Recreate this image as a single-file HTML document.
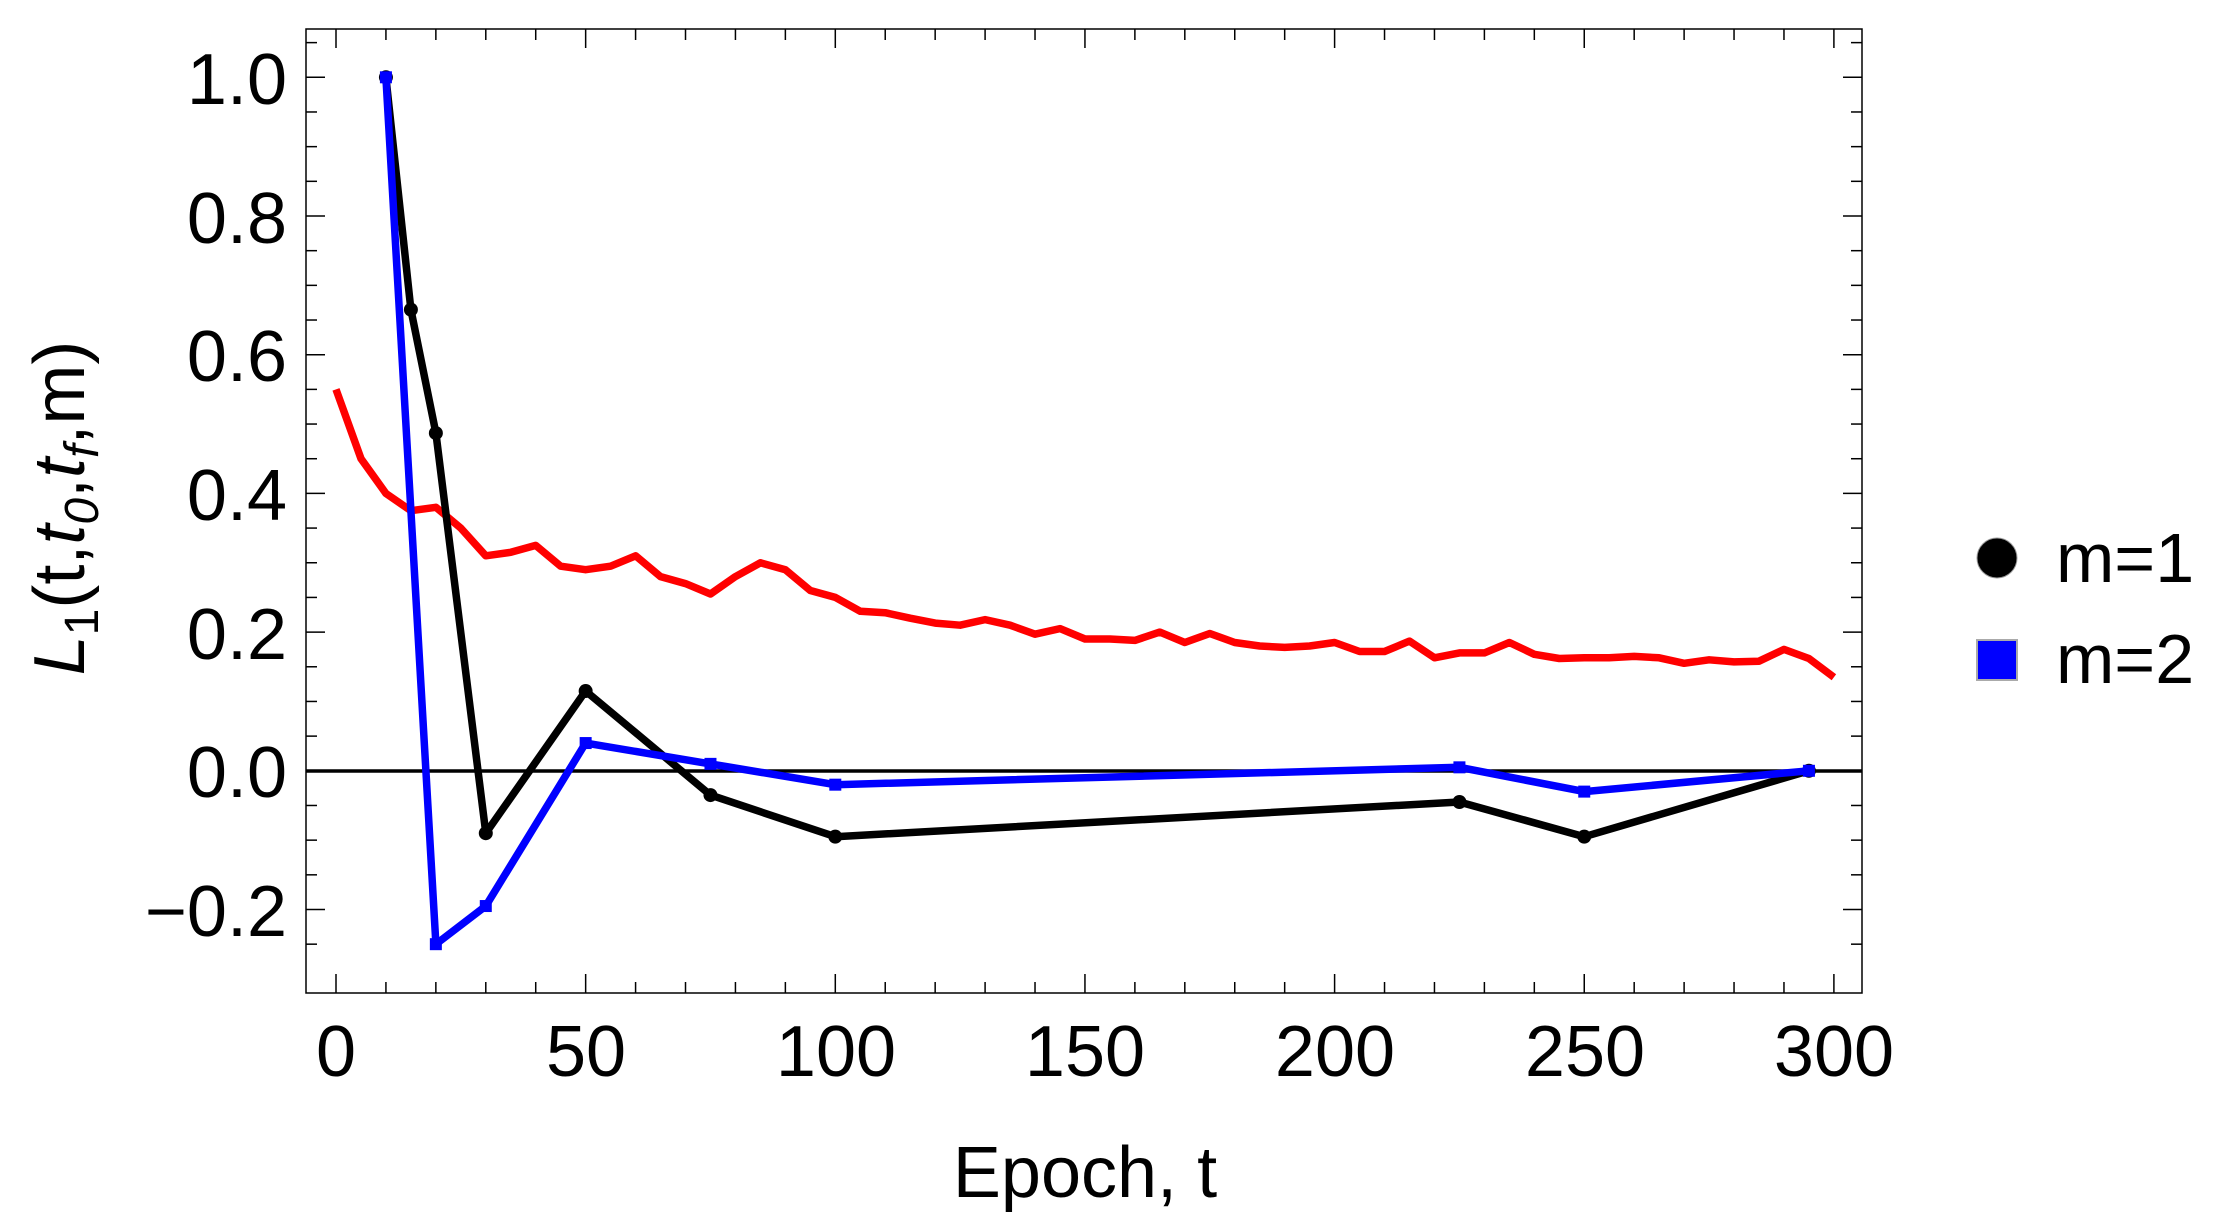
<!DOCTYPE html>
<html><head><meta charset="utf-8"><style>
html,body{margin:0;padding:0;background:#fff;}
svg{display:block;font-family:"Liberation Sans",sans-serif;}
</style></head><body>
<svg id="s" width="2215" height="1231" viewBox="0 0 2215 1231" xmlns="http://www.w3.org/2000/svg">
<rect x="0" y="0" width="2215" height="1231" fill="#fff"/>
<g id="ticks" stroke="#000" stroke-width="1.5"></g>
<rect x="306" y="29" width="1556" height="964" fill="none" stroke="#000" stroke-width="1.5"/>
<line x1="306" y1="771" x2="1862" y2="771" stroke="#000" stroke-width="3.5"/>
<g id="series"></g>
<g font-size="72" fill="#000" text-anchor="end">
<text x="287" y="104">1.0</text>
<text x="287" y="243">0.8</text>
<text x="287" y="381">0.6</text>
<text x="287" y="520">0.4</text>
<text x="287" y="659">0.2</text>
<text x="287" y="797">0.0</text>
<text x="287" y="936">−0.2</text>
</g>
<g font-size="72" fill="#000" text-anchor="middle">
<text x="336" y="1076">0</text>
<text x="586" y="1076">50</text>
<text x="836" y="1076">100</text>
<text x="1085" y="1076">150</text>
<text x="1335" y="1076">200</text>
<text x="1585" y="1076">250</text>
<text x="1834" y="1076">300</text>
<text x="1085" y="1197">Epoch, t</text>
</g>
<text transform="translate(84,508) rotate(-90)" font-size="72" text-anchor="middle" fill="#000"><tspan font-style="italic">L</tspan><tspan font-size="48" dy="14">1</tspan><tspan dy="-14">(t,</tspan><tspan font-style="italic">t</tspan><tspan font-size="48" dy="14" font-style="italic">0</tspan><tspan dy="-14">,</tspan><tspan font-style="italic">t</tspan><tspan font-size="48" dy="14" font-style="italic">f</tspan><tspan dy="-14">,m)</tspan></text>
<circle cx="1997" cy="558" r="20" fill="#000" stroke="#999" stroke-width="1"/>
<rect x="1977" y="640" width="40" height="40" fill="#00f" stroke="#aaa" stroke-width="2"/>
<g font-size="70" fill="#000">
<text x="2056" y="582">m=1</text>
<text x="2056" y="683">m=2</text>
</g>
</svg>
<script>
var NS="http://www.w3.org/2000/svg";
function X(t){return 336+4.993*t;}
function Y(v){return 770.8-693.5*v;}
var tg=document.getElementById("ticks");
function ln(x1,y1,x2,y2){var l=document.createElementNS(NS,"line");l.setAttribute("x1",x1);l.setAttribute("y1",y1);l.setAttribute("x2",x2);l.setAttribute("y2",y2);tg.appendChild(l);}
for(var i=-5;i<=21;i++){var v=i*0.05;var y=Y(v);if(y<29||y>993)continue;var L=(i%4==0)?19:11;ln(306,y,306+L,y);ln(1862,y,1862-L,y);}
for(var t=0;t<=300;t+=10){var x=X(t);var L=(t%50==0)?19:11;ln(x,993,x,993-L);ln(x,29,x,29+L);}
var sg=document.getElementById("series");
function poly(pts,col,w){var p=document.createElementNS(NS,"polyline");p.setAttribute("points",pts.map(function(a){return X(a[0]).toFixed(1)+","+Y(a[1]).toFixed(1);}).join(" "));p.setAttribute("fill","none");p.setAttribute("stroke",col);p.setAttribute("stroke-width",w);p.setAttribute("stroke-linejoin","round");sg.appendChild(p);}
var red=[0.55,0.45,0.40,0.375,0.38,0.35,0.31,0.315,0.325,0.295,0.29,0.295,0.31,0.28,0.27,0.255,0.28,0.30,0.29,0.26,0.25,0.23,0.228,0.22,0.213,0.21,0.218,0.21,0.197,0.205,0.19,0.19,0.188,0.20,0.185,0.198,0.185,0.18,0.178,0.18,0.185,0.172,0.172,0.187,0.163,0.17,0.17,0.185,0.168,0.162,0.163,0.163,0.165,0.163,0.155,0.16,0.157,0.158,0.175,0.162,0.135];
poly(red.map(function(v,i){return [i*5,v];}),"#f00",7.5);
var blk=[[10,1.0],[15,0.665],[20,0.487],[30,-0.09],[50,0.115],[75,-0.035],[100,-0.095],[225,-0.045],[250,-0.095],[295,0]];
var blu=[[10,1.0],[20,-0.25],[30,-0.195],[50,0.04],[75,0.01],[100,-0.02],[225,0.005],[250,-0.03],[295,0]];
poly(blk,"#000",7.5);
blk.forEach(function(a){var c=document.createElementNS(NS,"circle");c.setAttribute("cx",X(a[0]));c.setAttribute("cy",Y(a[1]));c.setAttribute("r",7);c.setAttribute("fill","#000");sg.appendChild(c);});
poly(blu,"#00f",7.5);
blu.forEach(function(a){var r=document.createElementNS(NS,"rect");r.setAttribute("x",X(a[0])-6);r.setAttribute("y",Y(a[1])-6);r.setAttribute("width",12);r.setAttribute("height",12);r.setAttribute("fill","#00f");sg.appendChild(r);});
</script>
</body></html>
